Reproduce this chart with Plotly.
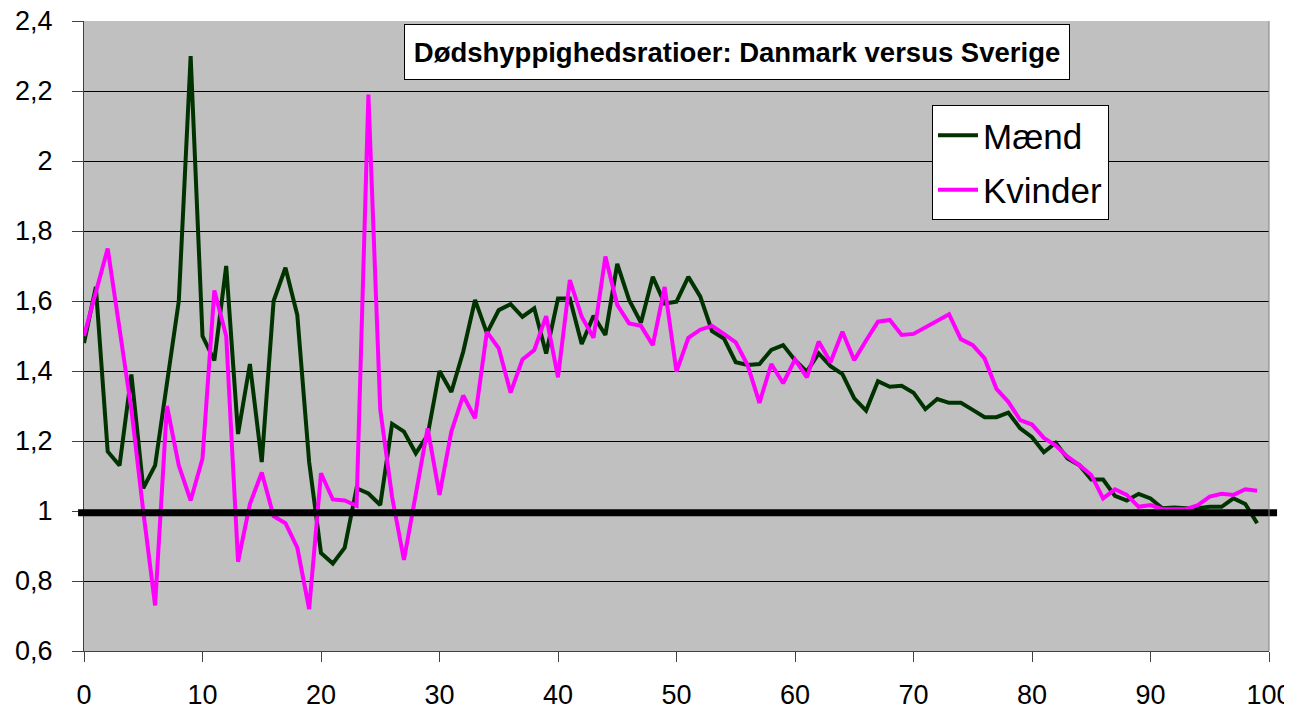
import plotly.graph_objects as go

ages = list(range(0, 100))

maend = [1.48, 1.64, 1.17, 1.13, 1.39, 1.065, 1.13, 1.365, 1.60, 2.30,
         1.50, 1.43, 1.70, 1.22, 1.42, 1.14, 1.60, 1.695, 1.56, 1.14,
         0.88, 0.85, 0.895, 1.065, 1.05, 1.017, 1.249, 1.227, 1.165, 1.217,
         1.40, 1.34, 1.455, 1.603, 1.508, 1.574, 1.591, 1.555, 1.579, 1.45,
         1.607, 1.607, 1.477, 1.558, 1.503, 1.706, 1.603, 1.538, 1.669, 1.593,
         1.598, 1.669, 1.613, 1.514, 1.493, 1.425, 1.417, 1.42, 1.46, 1.474,
         1.431, 1.398, 1.45, 1.414, 1.391, 1.322, 1.287, 1.371, 1.355, 1.358,
         1.338, 1.291, 1.32, 1.309, 1.309, 1.289, 1.268, 1.268, 1.281, 1.236,
         1.211, 1.168, 1.195, 1.15, 1.131, 1.09, 1.09, 1.043, 1.03, 1.049,
         1.036, 1.008, 1.01, 1.008, 1.008, 1.012, 1.012, 1.036, 1.02, 0.965]

kvinder = [1.50, 1.63, 1.75, 1.52, 1.29, 1.00, 0.73, 1.30, 1.13, 1.03,
           1.15, 1.63, 1.50, 0.855, 1.02, 1.11, 0.985, 0.965, 0.895, 0.72,
           1.108, 1.033, 1.03, 1.015, 2.19, 1.29, 1.04, 0.86, 1.05, 1.236,
           1.046, 1.227, 1.33, 1.265, 1.512, 1.465, 1.338, 1.433, 1.46, 1.557,
           1.382, 1.66, 1.555, 1.495, 1.727, 1.589, 1.536, 1.529, 1.474, 1.64,
           1.398, 1.495, 1.518, 1.529, 1.506, 1.482, 1.417, 1.309, 1.42, 1.365,
           1.433, 1.382, 1.484, 1.425, 1.512, 1.431, 1.487, 1.541, 1.546, 1.503,
           1.506, 1.525, 1.546, 1.562, 1.491, 1.474, 1.436, 1.349, 1.312, 1.26,
           1.247, 1.209, 1.187, 1.155, 1.131, 1.103, 1.036, 1.062, 1.046, 1.012,
           1.017, 1.005, 1.005, 1.005, 1.017, 1.041, 1.049, 1.046, 1.062, 1.058]

title_text = "Dødshyppighedsratioer: Danmark versus Sverige"
x_range = [0, 100]
y_range = [0.6, 2.4]
ref_level = 0.995

FONT = "Liberation Sans, Arial, sans-serif"

fig = go.Figure()
fig.add_trace(go.Scatter(x=ages, y=maend, mode="lines", name="Mænd",
                         legendgroup="m",
                         line=dict(color="#003300", width=4)))
fig.add_trace(go.Scatter(x=ages, y=kvinder, mode="lines", name="Kvinder",
                         legendgroup="k",
                         line=dict(color="#FF00FF", width=4)))

# thick reference line at ratio 1
fig.add_shape(type="line", xref="paper", yref="y",
              x0=-0.005, x1=1.0068, y0=ref_level, y1=ref_level,
              line=dict(color="black", width=7), layer="above")
# right border of plot area
fig.add_shape(type="line", xref="paper", yref="paper",
              x0=1, x1=1, y0=0, y1=1, line=dict(color="#808080", width=1))

fig.add_annotation(xref="paper", yref="paper", x=0.551, y=0.951,
                   xanchor="center", yanchor="middle",
                   text="<b>" + title_text + "</b>", showarrow=False,
                   font=dict(family=FONT, size=27.5, color="black"),
                   bgcolor="white", bordercolor="black", borderwidth=1,
                   borderpad=4, width=656, height=46)

# the page body adds an 8px offset, so the figure is 8px smaller
fig.update_layout(
    width=1284, height=704,
    margin=dict(l=76, r=23, t=13, b=61, autoexpand=False),
    paper_bgcolor="white", plot_bgcolor="#C0C0C0",
    separators=", ",
    font=dict(family=FONT, color="black"),
    showlegend=True,
    legend=dict(x=0.7156, y=0.8667, xanchor="left", yanchor="top",
                bgcolor="white", bordercolor="black", borderwidth=1,
                font=dict(family=FONT, size=35, color="black"),
                itemwidth=40, tracegroupgap=6),
)
fig.update_xaxes(range=x_range, dtick=10, tick0=0, showgrid=False,
                 automargin=False, ticklabeloverflow="allow",
                 showline=True, linecolor="#404040", linewidth=1,
                 ticks="outside", ticklen=10, tickcolor="#404040",
                 ticklabelstandoff=10,
                 tickfont=dict(family=FONT, size=27, color="black"),
                 zeroline=False)
fig.update_yaxes(range=y_range, dtick=0.2, tick0=0.6, showgrid=True,
                 automargin=False, ticklabeloverflow="allow",
                 gridcolor="black", gridwidth=1,
                 showline=True, linecolor="#404040", linewidth=1,
                 ticks="outside", ticklen=11, tickcolor="#404040",
                 ticklabelstandoff=14,
                 tickfont=dict(family=FONT, size=27, color="black"),
                 zeroline=False)

fig.write_html("out.html")
